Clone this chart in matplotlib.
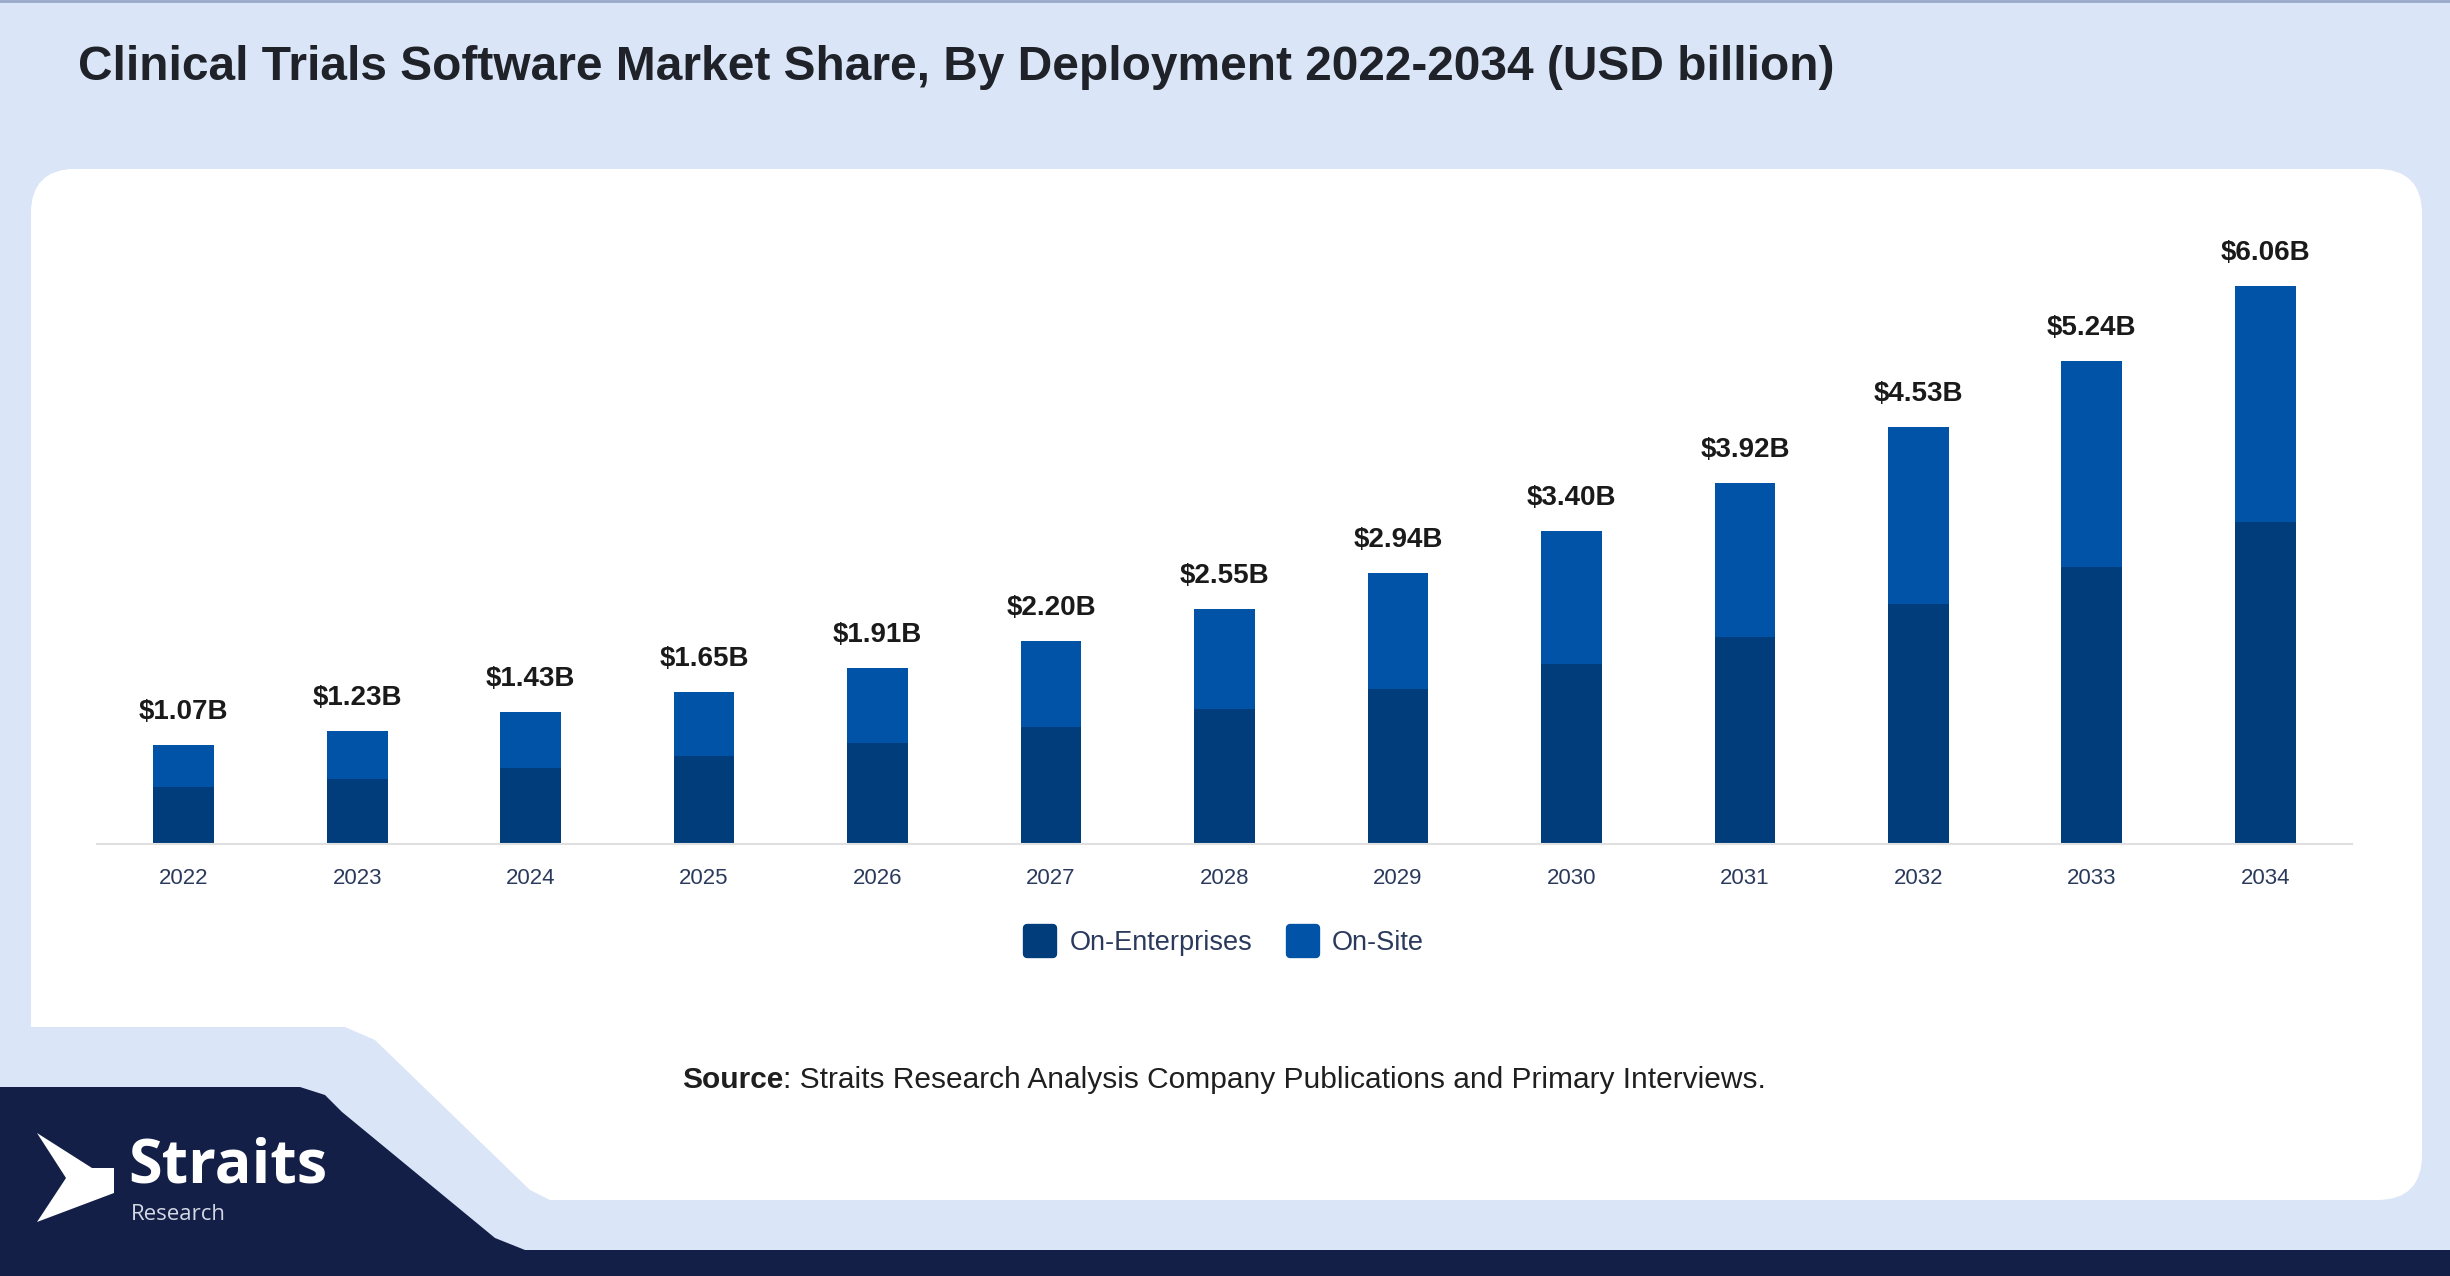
import numpy as np
import matplotlib.pyplot as plt
from matplotlib.patches import FancyBboxPatch, Polygon
from matplotlib.lines import Line2D
from matplotlib.markers import MarkerStyle

plt.rcParams['font.family'] = ['Liberation Sans', 'DejaVu Sans']

#--------------------------------------------------------------------------------------------------
# DATA (USD billion)
#--------------------------------------------------------------------------------------------------

years = ['2022', '2023', '2024', '2025', '2026', '2027', '2028',
         '2029', '2030', '2031', '2032', '2033', '2034']
on_enterprises = [0.62, 0.71, 0.83, 0.95, 1.10, 1.27, 1.46, 1.68, 1.95, 2.25, 2.60, 3.01, 3.49]
on_site = [0.45, 0.52, 0.60, 0.70, 0.81, 0.93, 1.09, 1.26, 1.45, 1.67, 1.93, 2.23, 2.57]
series_names = ['On-Enterprises', 'On-Site']

title = 'Clinical Trials Software Market Share, By Deployment 2022-2034 (USD billion)'

#--------------------------------------------------------------------------------------------------
# LAYOUT
#--------------------------------------------------------------------------------------------------

W, H = 2450, 1276
c_bg = '#dae6f8'
c_navy = '#131f47'
c_dark = '#003d7a'
c_light = '#0053a6'

fig = plt.figure(figsize=(W / 100, H / 100), dpi=100)
fig.patch.set_facecolor(c_bg)

# background axes in pixel units (y downwards)
bg = fig.add_axes([0, 0, 1, 1])
bg.set_xlim(0, W)
bg.set_ylim(H, 0)
bg.axis('off')

bg.plot([0, W], [1, 1], color='#9aa8c8', lw=2)

# white card with the stepped lower-left corner
bg.add_patch(FancyBboxPatch((31, 169), 2391, 1031, boxstyle='round,pad=0,rounding_size=45',
                            fc='white', ec='none'))
bg.add_patch(Polygon([(0, 1027), (345, 1027), (375, 1040), (530, 1190), (560, 1205), (0, 1205)],
                     closed=True, fc=c_bg, ec='none'))
bg.add_patch(FancyBboxPatch((31, 169), 600, 858, boxstyle='round,pad=0,rounding_size=45',
                            fc='white', ec='none'))

# navy footer
bg.add_patch(Polygon([(0, 1087), (300, 1087), (325, 1095), (342, 1112), (495, 1238), (525, 1250),
                      (W, 1250), (W, H), (0, H)], closed=True, fc=c_navy, ec='none'))

# logo
bg.add_patch(Polygon([(37, 1133), (92, 1168), (114, 1168), (114, 1193), (37, 1222), (66, 1178)],
                     closed=True, fc='white', ec='none'))
bg.text(128, 1167, 'Straits', color='white', fontsize=44, fontweight='bold',
        family=['Open Sans', 'DejaVu Sans'], va='center', ha='left')
bg.text(131, 1214, 'Research', color='#d4d8e4', fontsize=16,
        family=['Open Sans', 'DejaVu Sans'], va='center', ha='left')

# title
bg.text(78, 67, title, fontsize=34.5, fontweight='bold', color='#1f2329', va='center', ha='left')

# source line
src = bg.text(682, 1080, 'Source', fontsize=21.5, fontweight='bold', color='#1f1f1f',
              va='center', ha='left')
bg.annotate(': Straits Research Analysis Company Publications and Primary Interviews.',
            xy=(1, 0), xycoords=src, fontsize=21.5, color='#1f1f1f', va='bottom', ha='left')

#--------------------------------------------------------------------------------------------------
# PLOT
#--------------------------------------------------------------------------------------------------

ax = fig.add_axes([97 / W, (H - 844) / H, 2255 / W, 645 / H])
ax.set_facecolor('none')

x = np.arange(len(years))
totals = np.add(on_enterprises, on_site)

ax.bar(x, on_enterprises, width=0.35, color=c_dark, label=series_names[0])
ax.bar(x, on_site, width=0.35, bottom=on_enterprises, color=c_light, label=series_names[1])

for xi, t in zip(x, totals):
    ax.annotate('$%.2fB' % t, (xi, t), xytext=(0, 33), textcoords='offset pixels',
                ha='center', va='center', fontsize=20, fontweight='bold', color='#1a1a1a')

ax.set_xlim(-0.5, len(years) - 0.5)
ax.set_ylim(0, 7)
ax.set_xticks(x)
ax.set_xticklabels(years, fontsize=16, color='#2b3a5c')
ax.tick_params(axis='x', length=0, pad=17)
ax.set_yticks([])
for s in ['top', 'right', 'left']:
    ax.spines[s].set_visible(False)
ax.spines['bottom'].set_color('#e0e0e0')
ax.spines['bottom'].set_linewidth(1.5)

handles = [Line2D([], [], ls='none', marker=MarkerStyle('s', joinstyle='round'), markersize=19,
                  mfc=c, mec=c, mew=6) for c in (c_dark, c_light)]
fig.legend(handles, series_names, loc='center', bbox_to_anchor=(0.4995, 1 - 943 / H), ncol=2,
           frameon=False, fontsize=19.5, labelcolor='#2b3a5c', handlelength=1.25,
           handletextpad=0.45, columnspacing=1.25)

plt.savefig('out.png', dpi=100, facecolor=fig.get_facecolor())
